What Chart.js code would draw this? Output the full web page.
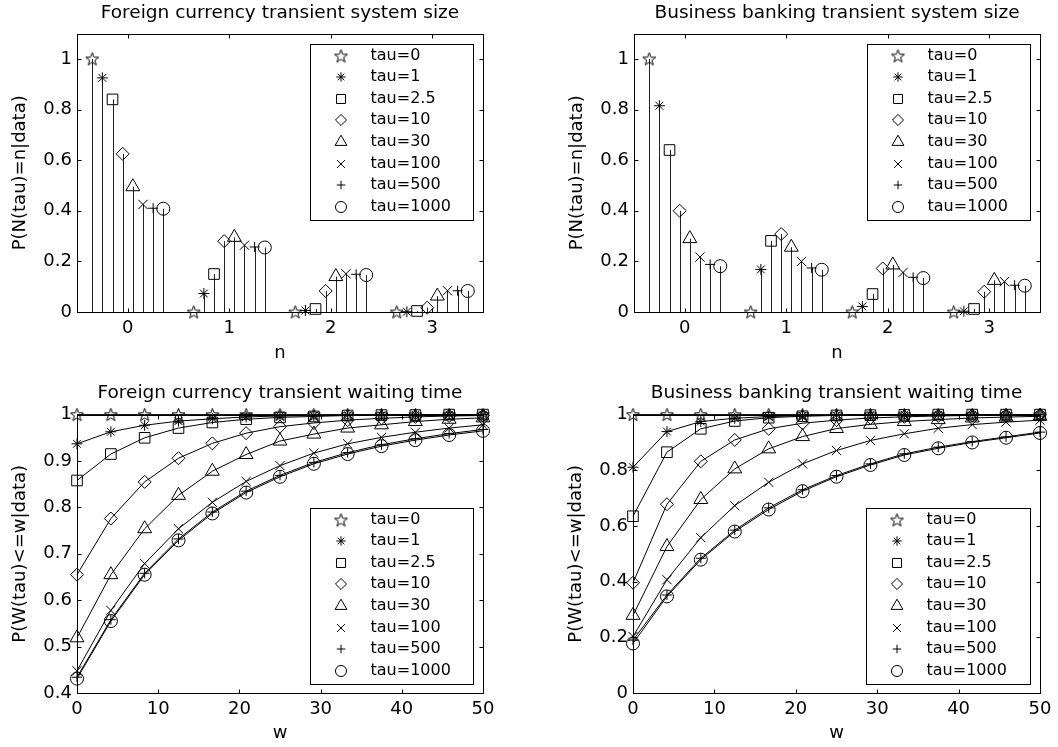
<!DOCTYPE html>
<html>
<head>
<meta charset="utf-8">
<script src="https://cdn.jsdelivr.net/npm/chart.js@4.4.1/dist/chart.umd.min.js"></script>
<style>
    html, body { margin: 0; padding: 0; background: #fff; }
    #wrap { position: relative; width: 1058px; height: 747px; overflow: hidden; }
    #wrap canvas { position: absolute; }
</style>
</head>
<body>
<div id="wrap">
    <canvas id="fcSize" width="529" height="373" style="left:0;top:0"></canvas>
    <canvas id="bbSize" width="529" height="373" style="left:529px;top:0"></canvas>
    <canvas id="fcWait" width="529" height="374" style="left:0;top:373px"></canvas>
    <canvas id="bbWait" width="529" height="374" style="left:529px;top:373px"></canvas>
</div>
<script>
(function() {
    'use strict';

    // ---- data ----
    const tauLabels = ['tau=0', 'tau=1', 'tau=2.5', 'tau=10', 'tau=30', 'tau=100', 'tau=500', 'tau=1000'];

    const nValues = [0, 1, 2, 3];
    const wValues = [0, 4.17, 8.33, 12.5, 16.67, 20.83, 25, 29.17, 33.33, 37.5, 41.67, 45.83, 50];

    const sizeXTicks = [0, 1, 2, 3];
    const sizeYTicks = [0, 0.2, 0.4, 0.6, 0.8, 1];
    const waitXTicks = [0, 10, 20, 30, 40, 50];
    const fcWaitYTicks = [0.4, 0.5, 0.6, 0.7, 0.8, 0.9, 1];
    const bbWaitYTicks = [0, 0.2, 0.4, 0.6, 0.8, 1];

    // P(N(tau)=n|data), one row per tau, columns n = 0..3
    const fcSizeVals = [
        [1, 0, 0, 0],
        [0.925, 0.073, 0.006, 0.001],
        [0.84, 0.15, 0.012, 0.004],
        [0.625, 0.28, 0.083, 0.017],
        [0.495, 0.295, 0.14, 0.063],
        [0.425, 0.264, 0.151, 0.084],
        [0.41, 0.257, 0.149, 0.084],
        [0.408, 0.255, 0.146, 0.083]
    ];
    const bbSizeVals = [
        [1, 0, 0, 0],
        [0.815, 0.168, 0.022, 0.003],
        [0.64, 0.281, 0.071, 0.012],
        [0.4, 0.308, 0.172, 0.08],
        [0.29, 0.256, 0.186, 0.125],
        [0.217, 0.2, 0.156, 0.12],
        [0.188, 0.174, 0.137, 0.106],
        [0.181, 0.167, 0.134, 0.104]
    ];

    // P(W(tau)<=w|data), one row per tau, columns = wValues
    const fcWaitVals = [
        [1, 1, 1, 1, 1, 1, 1, 1, 1, 1, 1, 1, 1],
        [0.937, 0.963, 0.977, 0.986, 0.991, 0.995, 0.997, 0.998, 0.999, 0.999, 1, 1, 1],
        [0.858, 0.915, 0.95, 0.971, 0.983, 0.99, 0.994, 0.996, 0.998, 0.999, 0.999, 1, 1],
        [0.655, 0.776, 0.855, 0.906, 0.938, 0.96, 0.974, 0.982, 0.988, 0.992, 0.995, 0.997, 0.998],
        [0.519, 0.655, 0.754, 0.826, 0.878, 0.914, 0.943, 0.958, 0.971, 0.978, 0.985, 0.99, 0.993],
        [0.448, 0.578, 0.679, 0.754, 0.811, 0.856, 0.89, 0.917, 0.937, 0.951, 0.962, 0.971, 0.978],
        [0.434, 0.558, 0.658, 0.732, 0.79, 0.835, 0.869, 0.897, 0.918, 0.935, 0.948, 0.959, 0.968],
        [0.431, 0.555, 0.655, 0.729, 0.787, 0.832, 0.866, 0.894, 0.915, 0.932, 0.945, 0.956, 0.965]
    ];
    const bbWaitVals = [
        [1, 1, 1, 1, 1, 1, 1, 1, 1, 1, 1, 1, 1],
        [0.811, 0.939, 0.975, 0.987, 0.993, 0.996, 0.998, 0.999, 1, 1, 1, 1, 1],
        [0.635, 0.865, 0.949, 0.977, 0.989, 0.994, 0.997, 0.998, 0.999, 1, 1, 1, 1],
        [0.396, 0.678, 0.832, 0.909, 0.949, 0.969, 0.98, 0.988, 0.992, 0.995, 0.997, 0.998, 0.999],
        [0.279, 0.526, 0.695, 0.805, 0.877, 0.921, 0.95, 0.965, 0.975, 0.982, 0.988, 0.991, 0.994],
        [0.203, 0.407, 0.558, 0.673, 0.757, 0.823, 0.871, 0.907, 0.931, 0.951, 0.964, 0.973, 0.98],
        [0.19, 0.352, 0.484, 0.585, 0.665, 0.73, 0.781, 0.823, 0.859, 0.883, 0.903, 0.92, 0.937],
        [0.178, 0.347, 0.479, 0.58, 0.659, 0.725, 0.777, 0.819, 0.855, 0.879, 0.9, 0.917, 0.934]
    ];

    // ---- styles ----
    const FONT = '"DejaVu Sans", "Liberation Sans", sans-serif';
    const STEM_GAP = 0.1;

    // MATLAB-like five-pointed star marker, drawn once and used as a point image
    function makePentagram() {
        const c = document.createElement('canvas');
        c.width = 15;
        c.height = 15;
        const g = c.getContext('2d');
        g.strokeStyle = '#000';
        g.lineWidth = 1;
        g.beginPath();
        for (let k = 0; k < 10; k++) {
            const r = k % 2 ? 2.8 : 6.8;
            const a = -Math.PI / 2 + k * Math.PI / 5;
            const px = 7.5 + r * Math.cos(a);
            const py = 8 + r * Math.sin(a);
            if (k === 0) g.moveTo(px, py); else g.lineTo(px, py);
        }
        g.closePath();
        g.stroke();
        return c;
    }

    const pentagram = makePentagram();
    const markerStyles = [pentagram, 'star', 'rect', 'rectRot', 'triangle', 'crossRot', 'cross', 'circle'];
    const markerRadii = [7, 5.5, 7.5, 6.5, 8, 6.5, 5, 6.5];

    Chart.defaults.font.family = FONT;
    Chart.defaults.color = '#000';

    // box, inward ticks, stems and an in-axes legend (MATLAB look)
    const matlabAxes = {
        id: 'matlabAxes',
        beforeDatasetsDraw(chart, args, opts) {
            if (!opts.stems) return;
            const ctx = chart.ctx;
            const y0 = chart.scales.y.getPixelForValue(0);
            ctx.save();
            ctx.strokeStyle = '#222';
            ctx.lineWidth = 1;
            chart.data.datasets.forEach((ds, i) => {
                chart.getDatasetMeta(i).data.forEach(pt => {
                    const px = Math.round(pt.x) + 0.5;
                    ctx.beginPath();
                    ctx.moveTo(px, y0);
                    ctx.lineTo(px, pt.y);
                    ctx.stroke();
                });
            });
            ctx.restore();
        },
        afterDraw(chart, args, opts) {
            const ctx = chart.ctx;
            const a = chart.chartArea;
            const xs = chart.scales.x;
            const ys = chart.scales.y;
            const L = Math.round(a.left) + 0.5, R = Math.round(a.right) + 0.5;
            const T = Math.round(a.top) + 0.5, B = Math.round(a.bottom) + 0.5;
            ctx.save();
            ctx.strokeStyle = '#000';
            ctx.lineWidth = 1;
            ctx.strokeRect(L, T, R - L, B - T);
            ctx.beginPath();
            xs.ticks.forEach(t => {
                const px = Math.round(xs.getPixelForValue(t.value)) + 0.5;
                ctx.moveTo(px, B); ctx.lineTo(px, B - 4);
                ctx.moveTo(px, T); ctx.lineTo(px, T + 4);
            });
            ys.ticks.forEach(t => {
                const py = Math.round(ys.getPixelForValue(t.value)) + 0.5;
                ctx.moveTo(L, py); ctx.lineTo(L + 4, py);
                ctx.moveTo(R, py); ctx.lineTo(R - 4, py);
            });
            ctx.stroke();

            // legend box
            const boxH = 176;
            const bx = Math.round(a.left + 233) + 0.5;
            const bw = Math.round(a.right - 10 - bx);
            const by = Math.round(opts.legendTop ? a.top + 10 : a.bottom - 9.5 - boxH) + 0.5;
            ctx.fillStyle = '#fff';
            ctx.fillRect(bx, by, bw, boxH);
            ctx.strokeRect(bx, by, bw, boxH);
            chart.data.datasets.forEach((ds, i) => {
                const cy = Math.round(by + 11 + i * 21.65);
                ctx.strokeStyle = '#000';
                ctx.fillStyle = 'rgba(0,0,0,0)';
                ctx.lineWidth = 1;
                if (Chart.helpers && Chart.helpers.drawPoint) {
                    Chart.helpers.drawPoint(ctx, {
                        pointStyle: ds.pointStyle,
                        radius: ds.pointRadius * 0.85,
                        rotation: 0,
                        borderWidth: 1
                    }, Math.round(bx + 30), cy);
                }
                ctx.fillStyle = '#000';
                ctx.font = '16px ' + FONT;
                ctx.textAlign = 'left';
                ctx.textBaseline = 'middle';
                ctx.fillText(ds.label, bx + 60, cy);
            });
            ctx.restore();
        }
    };

    const fmt = v => String(+Number(v).toFixed(2));

    function buildChart(id, cfg) {
        const datasets = cfg.values.map((row, i) => ({
            label: tauLabels[i],
            data: row.map((v, j) => ({
                x: cfg.xValues[j] + (cfg.stems ? (i - 3.5) * STEM_GAP : 0),
                y: v
            })),
            showLine: !cfg.stems,
            borderColor: '#000',
            borderWidth: 1,
            tension: 0,
            pointStyle: markerStyles[i],
            pointRadius: markerRadii[i],
            pointBorderColor: '#000',
            pointBackgroundColor: 'rgba(0,0,0,0)',
            pointBorderWidth: 1,
            clip: false
        }));

        return new Chart(document.getElementById(id).getContext('2d'), {
            type: 'scatter',
            data: { datasets },
            options: {
                responsive: false,
                animation: false,
                events: [],
                layout: { padding: { left: cfg.padLeft, right: cfg.padRight, top: 0, bottom: 0 } },
                plugins: {
                    legend: { display: false },
                    tooltip: { enabled: false },
                    title: {
                        display: true,
                        text: cfg.title,
                        fullSize: false,
                        color: '#000',
                        font: { family: FONT, size: 18.5, weight: 'normal', lineHeight: 1.2 },
                        padding: { top: cfg.titleTop, bottom: cfg.titleBottom }
                    },
                    matlabAxes: { stems: cfg.stems, legendTop: cfg.stems }
                },
                scales: {
                    x: {
                        type: 'linear',
                        min: cfg.xMin,
                        max: cfg.xMax,
                        grid: { display: false, drawTicks: false },
                        border: { display: false },
                        afterBuildTicks: s => { s.ticks = cfg.xTicks.map(v => ({ value: v })); },
                        afterFit: s => { s.height = cfg.xAxisH; },
                        ticks: {
                            padding: 6,
                            autoSkip: false,
                            maxRotation: 0,
                            color: '#000',
                            font: { family: FONT, size: 18 },
                            callback: fmt
                        },
                        title: {
                            display: true,
                            text: cfg.xLabel,
                            color: '#000',
                            font: { family: FONT, size: 18 },
                            padding: { top: 0, bottom: cfg.xTitleBottom }
                        }
                    },
                    y: {
                        type: 'linear',
                        min: cfg.yMin,
                        max: cfg.yMax,
                        grid: { display: false, drawTicks: false },
                        border: { display: false },
                        afterBuildTicks: s => { s.ticks = cfg.yTicks.map(v => ({ value: v })); },
                        afterFit: s => { s.width = 77; },
                        ticks: {
                            padding: 5,
                            autoSkip: false,
                            color: '#000',
                            font: { family: FONT, size: 18 },
                            callback: fmt
                        },
                        title: {
                            display: true,
                            text: cfg.yLabel,
                            color: '#000',
                            font: { family: FONT, size: 18 },
                            padding: { top: 9.2, bottom: 0 }
                        }
                    }
                }
            },
            plugins: [matlabAxes]
        });
    }

    const sizeCommon = {
        xValues: nValues, stems: true,
        xMin: -0.5, xMax: 3.5, xTicks: sizeXTicks,
        yMin: 0, yMax: 1.1, yTicks: sizeYTicks,
        xLabel: 'n', yLabel: 'P(N(tau)=n|data)',
        titleTop: 1.7, titleBottom: 9.7, xAxisH: 61, xTitleBottom: 9
    };
    const waitCommon = {
        xValues: wValues, stems: false,
        xMin: 0, xMax: 50, xTicks: waitXTicks,
        xLabel: 'w', yLabel: 'P(W(tau)<=w|data)',
        titleTop: 9.2, titleBottom: 10.2, xAxisH: 54, xTitleBottom: 3.2
    };

    buildChart('fcSize', Object.assign({}, sizeCommon, {
        title: 'Foreign currency transient system size',
        values: fcSizeVals, padLeft: 0, padRight: 46
    }));
    buildChart('bbSize', Object.assign({}, sizeCommon, {
        title: 'Business banking transient system size',
        values: bbSizeVals, padLeft: 28, padRight: 18
    }));
    buildChart('fcWait', Object.assign({}, waitCommon, {
        title: 'Foreign currency transient waiting time',
        values: fcWaitVals, yMin: 0.4, yMax: 1, yTicks: fcWaitYTicks,
        padLeft: 0, padRight: 46
    }));
    buildChart('bbWait', Object.assign({}, waitCommon, {
        title: 'Business banking transient waiting time',
        values: bbWaitVals, yMin: 0, yMax: 1, yTicks: bbWaitYTicks,
        padLeft: 27, padRight: 18
    }));
})();
</script>
</body>
</html>
